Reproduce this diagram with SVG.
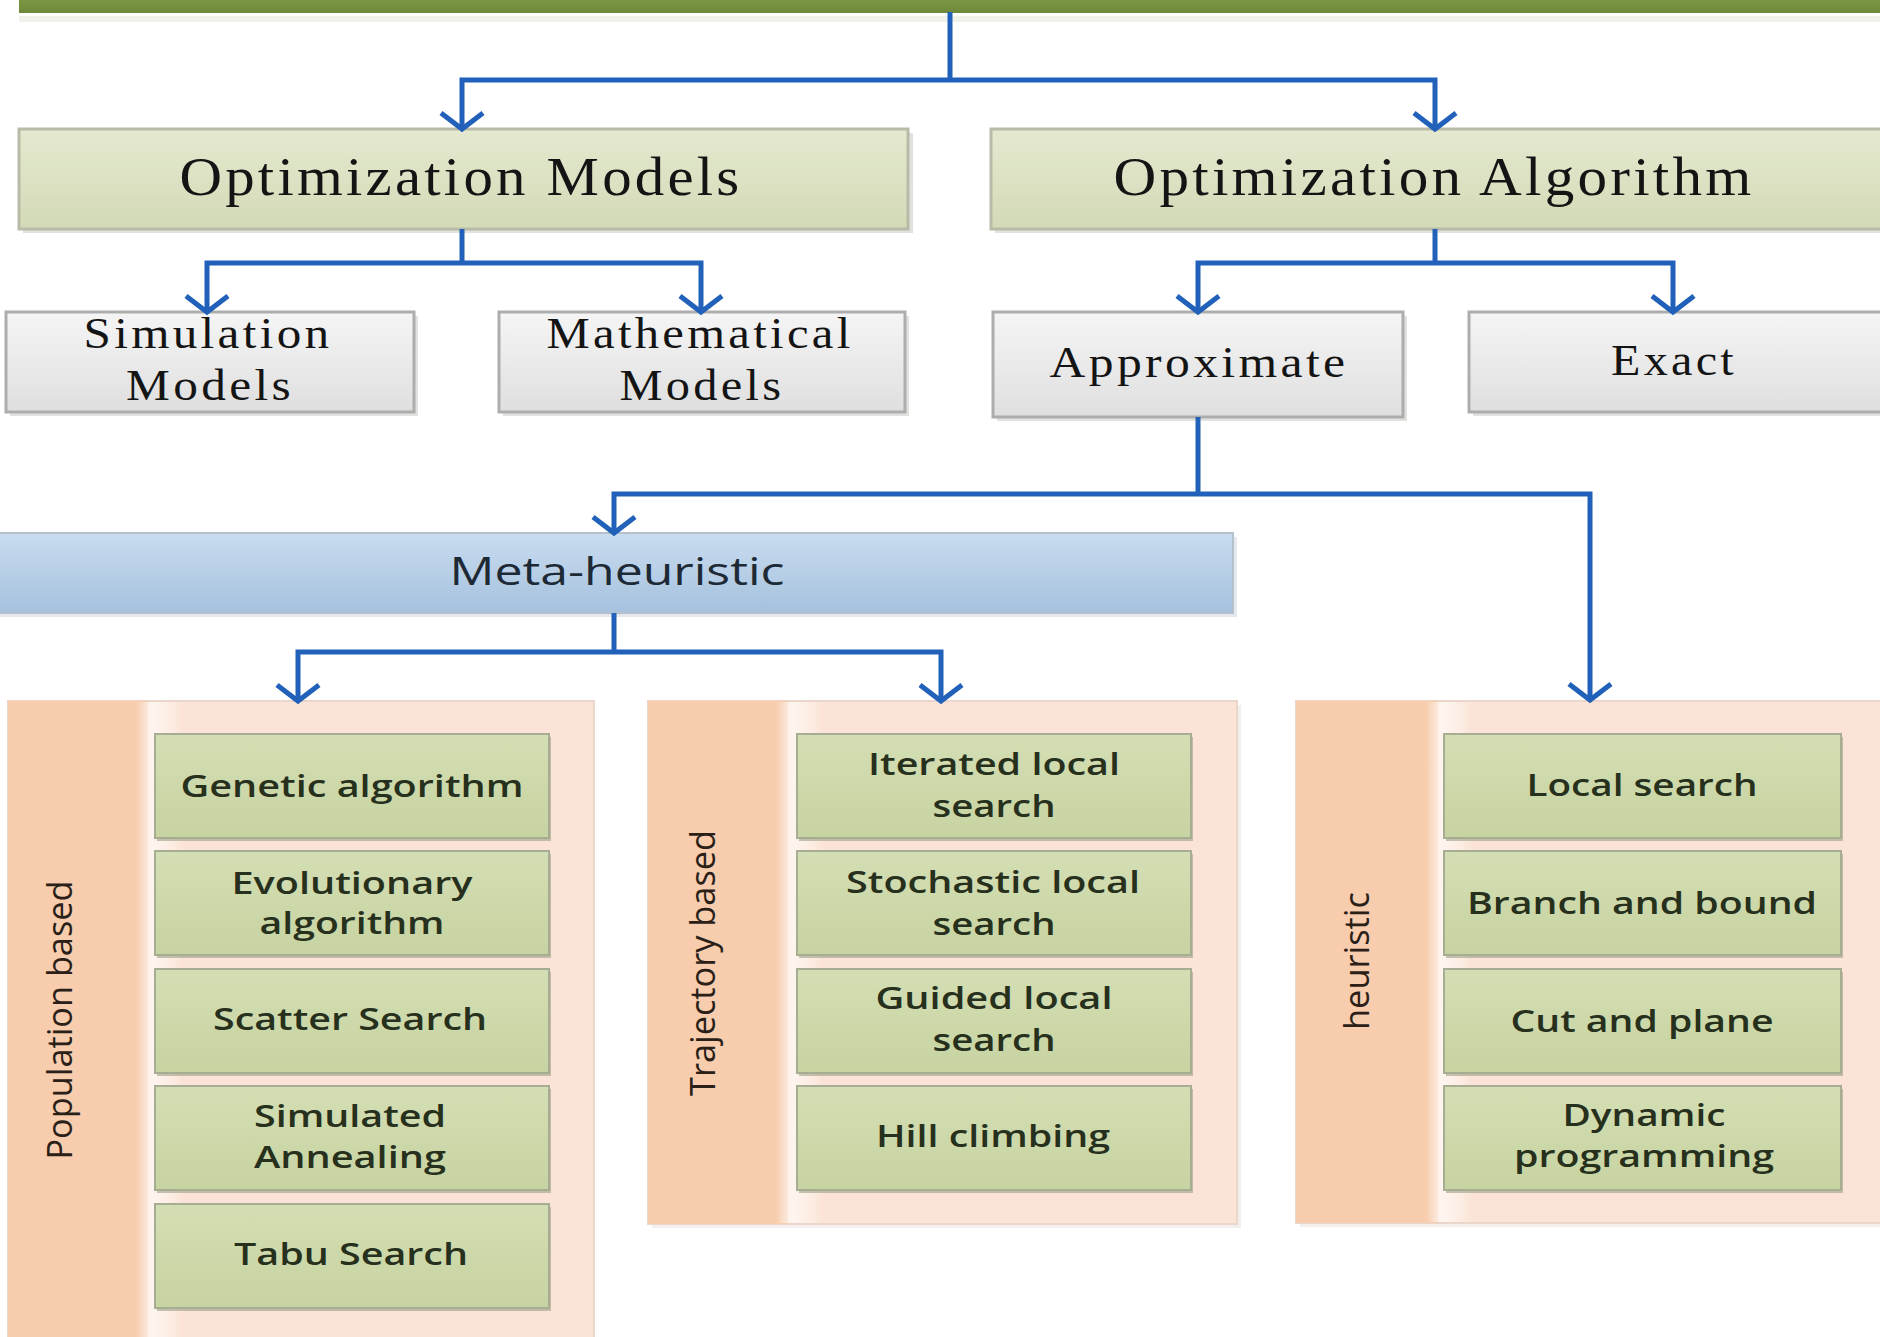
<svg xmlns="http://www.w3.org/2000/svg" width="1880" height="1337" viewBox="0 0 1880 1337">
<defs>
<style>
.conn{fill:none;stroke:#2161b9;stroke-width:5;stroke-linejoin:miter;stroke-linecap:butt}
.arr{marker-end:url(#chev)}
.serif{font-family:"Liberation Serif","Times New Roman",serif;fill:#141414;letter-spacing:3px}
.big{font-size:55px}
.mid{font-size:44px}
.sans{font-family:"Open Sans","Noto Sans","Liberation Sans",sans-serif;fill:#26301c;font-weight:600}
.item{font-size:31px}
.side{font-size:35px;fill:#2a2018;font-weight:500}
.opt{fill:url(#gOpt);stroke:#b9baa8;stroke-width:3}
.gray{fill:url(#gGray);stroke:#adadad;stroke-width:3}
.sh{fill:#c9c9c2;opacity:.55}
.panel{fill:#fbe4d7;stroke:#ead6ca;stroke-width:2}
.strip{fill:#f7cdae}
.band{fill:url(#gBand)}
.gbox{fill:url(#gGreen);stroke:#a7ad92;stroke-width:2}
.gsh{fill:#9ba083;opacity:.6}
</style>
<linearGradient id="gOpt" x1="0" y1="0" x2="0" y2="1"><stop offset="0" stop-color="#e4e9cf"/><stop offset="1" stop-color="#d3dab6"/></linearGradient>
<linearGradient id="gGray" x1="0" y1="0" x2="0" y2="1"><stop offset="0" stop-color="#f5f5f5"/><stop offset="1" stop-color="#dfdfdf"/></linearGradient>
<linearGradient id="gBlue" x1="0" y1="0" x2="0" y2="1"><stop offset="0" stop-color="#c9dcef"/><stop offset="1" stop-color="#a5c1de"/></linearGradient>
<linearGradient id="gGreen" x1="0" y1="0" x2="0" y2="1"><stop offset="0" stop-color="#d4deb4"/><stop offset="1" stop-color="#c7d3a1"/></linearGradient>
<linearGradient id="gBar" x1="0" y1="0" x2="0" y2="1"><stop offset="0" stop-color="#86a24c"/><stop offset="1" stop-color="#6d8838"/></linearGradient>
<linearGradient id="gBand" x1="0" y1="0" x2="1" y2="0"><stop offset="0" stop-color="#ffffff" stop-opacity="0"/><stop offset="0.35" stop-color="#fff8f3" stop-opacity="0.85"/><stop offset="1" stop-color="#ffffff" stop-opacity="0"/></linearGradient>
<marker id="chev" markerUnits="userSpaceOnUse" viewBox="-30 -30 60 60" markerWidth="60" markerHeight="60" refX="0" refY="0" orient="auto" overflow="visible">
<path d="M-16,-21 L0,0 L-16,21" fill="none" stroke="#2161b9" stroke-width="5" stroke-linejoin="miter"/>
</marker>
</defs>
<rect x="0" y="0" width="1880" height="1337" fill="#ffffff"/>

<g id="root">
<rect x="19" y="16" width="1861" height="6" fill="#e9ede0" opacity="0.7"/>
<rect x="19" y="-10" width="1861" height="23" fill="url(#gBar)"/>
</g>

<g id="optimization-models">
<rect class="sh" x="23" y="133" width="890" height="100"/>
<rect class="opt" x="19" y="129" width="889" height="100"/>
<text class="serif big" x="461" y="195" text-anchor="middle" textLength="563" lengthAdjust="spacingAndGlyphs">Optimization Models</text>
</g>

<g id="optimization-algorithm">
<rect class="sh" x="995" y="133" width="900" height="100"/>
<rect class="opt" x="991" y="129" width="900" height="100"/>
<text class="serif big" x="1434" y="195" text-anchor="middle" textLength="641" lengthAdjust="spacingAndGlyphs">Optimization Algorithm</text>
</g>

<g id="simulation-models">
<rect class="sh" x="10" y="316" width="408" height="100"/>
<rect class="gray" x="6" y="312" width="408" height="100"/>
<text class="serif mid" x="208" y="348" text-anchor="middle" textLength="249" lengthAdjust="spacingAndGlyphs">Simulation</text>
<text class="serif mid" x="210" y="400" text-anchor="middle" textLength="168" lengthAdjust="spacingAndGlyphs">Models</text>
</g>

<g id="mathematical-models">
<rect class="sh" x="503" y="316" width="406" height="100"/>
<rect class="gray" x="499" y="312" width="406" height="100"/>
<text class="serif mid" x="700" y="348" text-anchor="middle" textLength="307" lengthAdjust="spacingAndGlyphs">Mathematical</text>
<text class="serif mid" x="702" y="400" text-anchor="middle" textLength="165" lengthAdjust="spacingAndGlyphs">Models</text>
</g>

<g id="approximate">
<rect class="sh" x="997" y="316" width="410" height="105"/>
<rect class="gray" x="993" y="312" width="410" height="105"/>
<text class="serif mid" x="1199" y="377" text-anchor="middle" textLength="299" lengthAdjust="spacingAndGlyphs">Approximate</text>
</g>

<g id="exact">
<rect class="sh" x="1473" y="316" width="420" height="100"/>
<rect class="gray" x="1469" y="312" width="420" height="100"/>
<text class="serif mid" x="1674" y="375" text-anchor="middle" textLength="126" lengthAdjust="spacingAndGlyphs">Exact</text>
</g>

<g id="meta-heuristic">
<rect x="-4" y="537" width="1241" height="80" fill="#d3d9df" opacity="0.6"/>
<rect x="-6" y="533" width="1239" height="80" fill="url(#gBlue)" stroke="#b4c0cc" stroke-width="2"/>
<text class="sans" x="617" y="585" text-anchor="middle" font-size="38" style="fill:#1d2a36;font-weight:500" textLength="335" lengthAdjust="spacingAndGlyphs">Meta-heuristic</text>
</g>

<g id="population-based">
<rect class="panel" x="8" y="701" width="586" height="650"/>
<rect class="strip" x="8" y="701" width="140" height="650"/>
<rect class="band" x="136" y="702" width="46" height="648"/>
<text class="sans side" transform="translate(72,1020) rotate(-90)" text-anchor="middle" textLength="279" lengthAdjust="spacingAndGlyphs">Population based</text>
<g id="genetic-algorithm">
<rect class="gsh" x="157" y="737" width="394" height="104"/>
<rect class="gbox" x="155" y="734" width="394" height="104"/>
<text class="sans item" x="352" y="797" text-anchor="middle" textLength="343" lengthAdjust="spacingAndGlyphs">Genetic algorithm</text>
</g>
<g id="evolutionary-algorithm">
<rect class="gsh" x="157" y="854" width="394" height="104"/>
<rect class="gbox" x="155" y="851" width="394" height="104"/>
<text class="sans item" x="352" y="894" text-anchor="middle" textLength="241" lengthAdjust="spacingAndGlyphs">Evolutionary</text>
<text class="sans item" x="352" y="934" text-anchor="middle" textLength="185" lengthAdjust="spacingAndGlyphs">algorithm</text>
</g>
<g id="scatter-search">
<rect class="gsh" x="157" y="972" width="394" height="104"/>
<rect class="gbox" x="155" y="969" width="394" height="104"/>
<text class="sans item" x="350" y="1030" text-anchor="middle" textLength="274" lengthAdjust="spacingAndGlyphs">Scatter Search</text>
</g>
<g id="simulated-annealing">
<rect class="gsh" x="157" y="1089" width="394" height="104"/>
<rect class="gbox" x="155" y="1086" width="394" height="104"/>
<text class="sans item" x="350" y="1127" text-anchor="middle" textLength="192" lengthAdjust="spacingAndGlyphs">Simulated</text>
<text class="sans item" x="350" y="1168" text-anchor="middle" textLength="192" lengthAdjust="spacingAndGlyphs">Annealing</text>
</g>
<g id="tabu-search">
<rect class="gsh" x="157" y="1207" width="394" height="104"/>
<rect class="gbox" x="155" y="1204" width="394" height="104"/>
<text class="sans item" x="351" y="1265" text-anchor="middle" textLength="234" lengthAdjust="spacingAndGlyphs">Tabu Search</text>
</g>
</g>

<g id="trajectory-based">
<rect x="652" y="705" width="589" height="523" fill="#e9e4e0" opacity="0.6"/>
<rect class="panel" x="648" y="701" width="589" height="523"/>
<rect class="strip" x="648" y="701" width="140" height="523"/>
<rect class="band" x="776" y="702" width="46" height="521"/>
<text class="sans side" transform="translate(715,963) rotate(-90)" text-anchor="middle" textLength="266" lengthAdjust="spacingAndGlyphs">Trajectory based</text>
<g id="iterated-local-search">
<rect class="gsh" x="799" y="737" width="394" height="104"/>
<rect class="gbox" x="797" y="734" width="394" height="104"/>
<text class="sans item" x="994" y="775" text-anchor="middle" textLength="252" lengthAdjust="spacingAndGlyphs">Iterated local</text>
<text class="sans item" x="994" y="817" text-anchor="middle" textLength="123" lengthAdjust="spacingAndGlyphs">search</text>
</g>
<g id="stochastic-local-search">
<rect class="gsh" x="799" y="854" width="394" height="104"/>
<rect class="gbox" x="797" y="851" width="394" height="104"/>
<text class="sans item" x="993" y="893" text-anchor="middle" textLength="294" lengthAdjust="spacingAndGlyphs">Stochastic local</text>
<text class="sans item" x="994" y="935" text-anchor="middle" textLength="123" lengthAdjust="spacingAndGlyphs">search</text>
</g>
<g id="guided-local-search">
<rect class="gsh" x="799" y="972" width="394" height="104"/>
<rect class="gbox" x="797" y="969" width="394" height="104"/>
<text class="sans item" x="994" y="1009" text-anchor="middle" textLength="237" lengthAdjust="spacingAndGlyphs">Guided local</text>
<text class="sans item" x="994" y="1051" text-anchor="middle" textLength="123" lengthAdjust="spacingAndGlyphs">search</text>
</g>
<g id="hill-climbing">
<rect class="gsh" x="799" y="1089" width="394" height="104"/>
<rect class="gbox" x="797" y="1086" width="394" height="104"/>
<text class="sans item" x="993" y="1147" text-anchor="middle" textLength="234" lengthAdjust="spacingAndGlyphs">Hill climbing</text>
</g>
</g>

<g id="heuristic">
<rect x="1300" y="705" width="600" height="522" fill="#e9e4e0" opacity="0.6"/>
<rect class="panel" x="1296" y="701" width="600" height="522"/>
<rect class="strip" x="1296" y="701" width="142" height="522"/>
<rect class="band" x="1426" y="702" width="46" height="520"/>
<text class="sans side" transform="translate(1369,961) rotate(-90)" text-anchor="middle" textLength="138" lengthAdjust="spacingAndGlyphs">heuristic</text>
<g id="local-search">
<rect class="gsh" x="1446" y="737" width="397" height="104"/>
<rect class="gbox" x="1444" y="734" width="397" height="104"/>
<text class="sans item" x="1642" y="796" text-anchor="middle" textLength="231" lengthAdjust="spacingAndGlyphs">Local search</text>
</g>
<g id="branch-and-bound">
<rect class="gsh" x="1446" y="854" width="397" height="104"/>
<rect class="gbox" x="1444" y="851" width="397" height="104"/>
<text class="sans item" x="1642" y="914" text-anchor="middle" textLength="350" lengthAdjust="spacingAndGlyphs">Branch and bound</text>
</g>
<g id="cut-and-plane">
<rect class="gsh" x="1446" y="972" width="397" height="104"/>
<rect class="gbox" x="1444" y="969" width="397" height="104"/>
<text class="sans item" x="1642" y="1032" text-anchor="middle" textLength="263" lengthAdjust="spacingAndGlyphs">Cut and plane</text>
</g>
<g id="dynamic-programming">
<rect class="gsh" x="1446" y="1089" width="397" height="104"/>
<rect class="gbox" x="1444" y="1086" width="397" height="104"/>
<text class="sans item" x="1644" y="1126" text-anchor="middle" textLength="163" lengthAdjust="spacingAndGlyphs">Dynamic</text>
<text class="sans item" x="1644" y="1167" text-anchor="middle" textLength="260" lengthAdjust="spacingAndGlyphs">programming</text>
</g>
</g>

<g id="connectors">
<path class="conn" d="M950,12 V80"/>
<path class="conn arr" d="M950,80 H462 V129"/>
<path class="conn arr" d="M950,80 H1435 V129"/>
<path class="conn" d="M462,229 V263"/>
<path class="conn arr" d="M462,263 H207 V312"/>
<path class="conn arr" d="M462,263 H701 V312"/>
<path class="conn" d="M1435,229 V263"/>
<path class="conn arr" d="M1435,263 H1198 V312"/>
<path class="conn arr" d="M1435,263 H1673 V312"/>
<path class="conn" d="M1198,417 V494"/>
<path class="conn arr" d="M1198,494 H614 V533"/>
<path class="conn arr" d="M1198,494 H1590 V700"/>
<path class="conn" d="M614,613 V652"/>
<path class="conn arr" d="M614,652 H298 V701"/>
<path class="conn arr" d="M614,652 H941 V701"/>
</g>
</svg>
